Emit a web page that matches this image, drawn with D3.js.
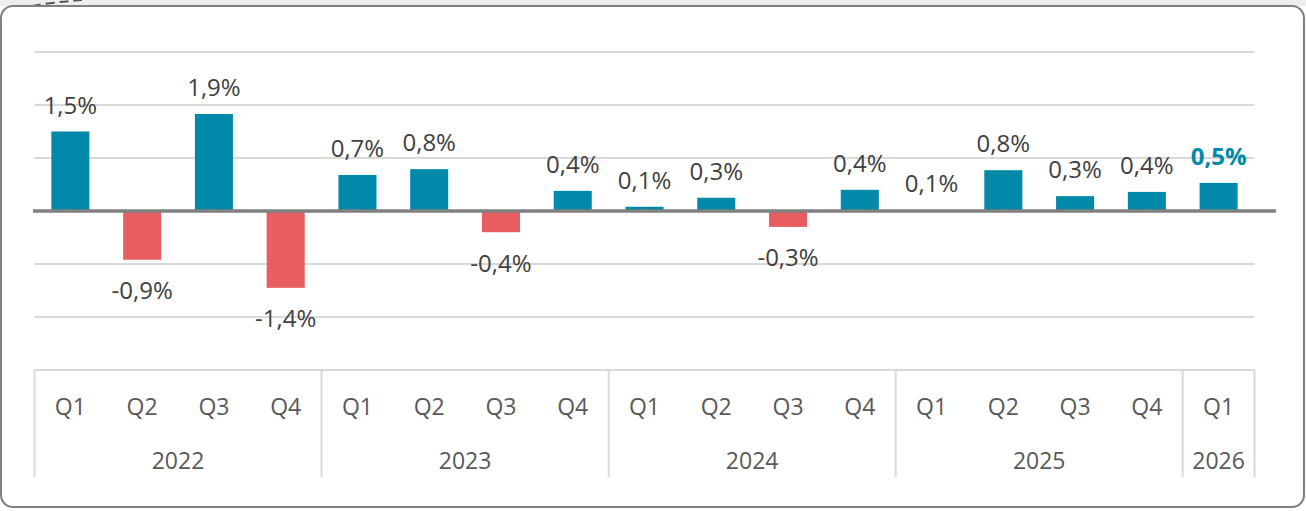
<!DOCTYPE html>
<html>
<head>
<meta charset="utf-8">
<script src="https://cdn.jsdelivr.net/npm/d3@7"></script>
<style>
  body { margin: 0; background: #fff; }
  svg { display: block; font-family: "Open Sans", sans-serif; }
</style>
</head>
<body>
<svg width="1306" height="511"></svg>
<script>
// quarterly change, % (bar heights)
const quarters = ['Q1','Q2','Q3','Q4','Q1','Q2','Q3','Q4','Q1','Q2','Q3','Q4','Q1','Q2','Q3','Q4','Q1'];
const years = ['2022','2022','2022','2022','2023','2023','2023','2023','2024','2024','2024','2024','2025','2025','2025','2025','2026'];
const values = [1.5, -0.92, 1.83, -1.45, 0.68, 0.79, -0.4, 0.38, 0.08, 0.25, -0.3, 0.4, 0.01, 0.77, 0.28, 0.36, 0.53];
const labels = ['1,5%','-0,9%','1,9%','-1,4%','0,7%','0,8%','-0,4%','0,4%','0,1%','0,3%','-0,3%','0,4%','0,1%','0,8%','0,3%','0,4%','0,5%'];
const gridTicks = [-2, -1, 1, 2, 3];

const svg = d3.select('svg');
const teal = '#0089a8', red = '#e85d60', textCol = '#404040', grid = '#d9d9d9';

// panel
svg.append('rect').attr('x', 0).attr('y', 0).attr('width', 1306).attr('height', 6).attr('fill', '#eeeeee');
svg.append('path')
    .attr('d', 'M32,6 Q55,2 82,0')
    .attr('fill', 'none').attr('stroke', '#555').attr('stroke-width', 2).attr('stroke-dasharray', '9,5');
svg.append('rect')
    .attr('x', 1).attr('y', 6).attr('width', 1303).attr('height', 501).attr('rx', 12)
    .attr('fill', '#fff').attr('stroke', '#7f7f7f').attr('stroke-width', 2);

const idx = values.map((d, i) => i);
const x = d3.scaleBand().domain(idx).range([34.5, 1254.5]).paddingInner(0.47).paddingOuter(0.235);
const step = x.step();
const y = d3.scaleLinear().domain([-3, 3]).range([370, 52]);

// gridlines
svg.append('g').selectAll('line').data(gridTicks).join('line')
    .attr('x1', 34.5).attr('x2', 1254.5)
    .attr('y1', d => y(d)).attr('y2', d => y(d))
    .attr('stroke', grid).attr('stroke-width', 2);

// bars
svg.append('g').selectAll('rect').data(values).join('rect')
    .attr('x', (d, i) => x(i))
    .attr('width', x.bandwidth())
    .attr('y', d => y(Math.max(0, d)))
    .attr('height', d => Math.abs(y(d) - y(0)))
    .attr('fill', d => d < 0 ? red : teal);

// zero line
svg.append('line')
    .attr('x1', 33).attr('x2', 1276).attr('y1', y(0)).attr('y2', y(0))
    .attr('stroke', '#808080').attr('stroke-width', 3.5);

// data labels
const last = values.length - 1;
svg.append('g').selectAll('text').data(values).join('text')
    .attr('x', (d, i) => x(i) + x.bandwidth() / 2)
    .attr('y', d => d < 0 ? y(d) + 22 : y(d) - 18)
    .attr('dy', d => d < 0 ? '0.73em' : 0)
    .attr('text-anchor', 'middle')
    .attr('font-size', 24)
    .attr('font-weight', (d, i) => i === last ? 700 : 400)
    .attr('fill', (d, i) => i === last ? teal : textCol)
    .text((d, i) => labels[i]);

// category axis box
const axisG = svg.append('g');
axisG.append('line').attr('x1', 34.5).attr('x2', 1254.5).attr('y1', y(-3)).attr('y2', y(-3))
    .attr('stroke', grid).attr('stroke-width', 2);

const yearNames = Array.from(new Set(years));
const groups = yearNames.map(yr => ({ year: yr, n: years.filter(v => v === yr).length }));
const bounds = [x.range()[0]];
groups.forEach(g => bounds.push(bounds[bounds.length - 1] + g.n * step));

axisG.selectAll('line.sep').data(bounds).join('line').attr('class', 'sep')
    .attr('x1', d => d).attr('x2', d => d).attr('y1', y(-3)).attr('y2', 477)
    .attr('stroke', grid).attr('stroke-width', 2);

axisG.selectAll('text.q').data(quarters).join('text').attr('class', 'q')
    .attr('x', (d, i) => x(i) + x.bandwidth() / 2)
    .attr('y', 407).attr('dy', '0.35em')
    .attr('text-anchor', 'middle').attr('font-size', 23).attr('fill', '#595959')
    .text(d => d);

axisG.selectAll('text.yr').data(groups).join('text').attr('class', 'yr')
    .attr('x', (d, i) => (bounds[i] + bounds[i + 1]) / 2)
    .attr('y', 461).attr('dy', '0.35em')
    .attr('text-anchor', 'middle').attr('font-size', 23).attr('fill', '#595959')
    .text(d => d.year);
</script>
</body>
</html>
